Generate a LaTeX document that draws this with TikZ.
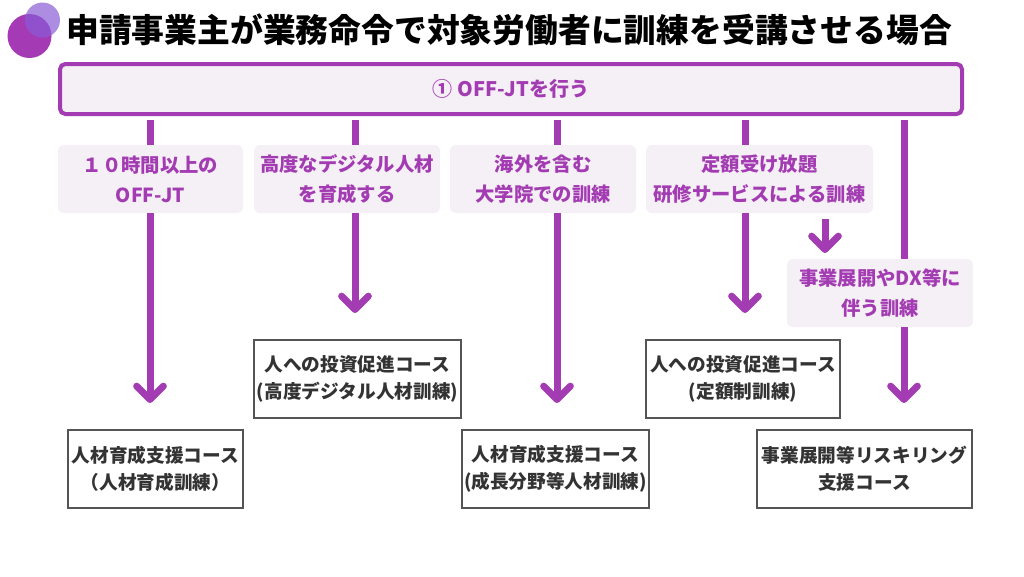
\documentclass[tikz,border=0pt]{standalone}
\usepackage{fontspec}
\setmainfont{Noto Sans CJK JP}
\usetikzlibrary{arrows.meta}
\definecolor{pur}{HTML}{A33BB2}
\definecolor{lav}{HTML}{F5EFF6}
\definecolor{circA}{HTML}{A53AB5}
\definecolor{circB}{HTML}{8A5CD6}
\definecolor{txtgray}{HTML}{333333}
\definecolor{boxgray}{HTML}{555555}
\tikzset{
  sz/.style 2 args={minimum width=#1*0.75pt, minimum height=#2*0.75pt},
  lbl/.style={fill=lav, rounded corners=4.5pt, text=pur, align=center, inner sep=0pt,
    font=\fontsize{14.5}{22.5}\selectfont\bfseries},
  outbox/.style={draw=boxgray, line width=0.9pt, fill=white, text=txtgray, align=center, inner sep=0pt,
    font=\fontsize{14}{20}\selectfont\bfseries},
  conn/.style={draw=pur, line width=5.25pt},
  arr/.style={conn, -{Straight Barb[round, length=10pt, width=20pt]}},
}
\begin{document}
\begin{tikzpicture}[x=0.75pt,y=-0.75pt]
\useasboundingbox (0,0) rectangle (1024,576);
% decorative circles
\fill[circA] (29.5,36) circle[radius=22*0.75pt];
\fill[circB, opacity=0.7] (42.5,20) circle[radius=17.5*0.75pt];
% title
\node[anchor=west, inner sep=0pt, font=\fontsize{24.6}{28}\selectfont\bfseries] (title) at (66,30)
  {申請事業主が業務命令で対象労働者に訓練を受講させる場合};
% top bar
\node[draw=pur, line width=3pt, fill=lav, rounded corners=4pt, sz={902}{50}, text=pur,
  font=\fontsize{15}{18}\selectfont\bfseries] (bar) at (511,89) {① OFF-JTを行う};
% label boxes
\node[lbl, sz={185}{68}] (L1) at (150.5,179) {１０時間以上の\\OFF-JT};
\node[lbl, sz={186}{68}] (L2) at (347,179) {高度なデジタル人材\\を育成する};
\node[lbl, sz={186}{68}] (L3) at (543,179) {海外を含む\\大学院での訓練};
\node[lbl, sz={227}{68}] (L4) at (759.5,179) {定額受け放題\\研修サービスによる訓練};
\node[lbl, sz={186}{68}] (L5) at (880,293) {事業展開やDX等に\\伴う訓練};
% output boxes
\node[outbox, sz={175}{78}] (A) at (155.5,469) {人材育成支援コース\\（人材育成訓練）};
\node[outbox, sz={207}{78}] (B) at (357.5,379) {人への投資促進コース\\(高度デジタル人材訓練)};
\node[outbox, sz={187}{78}] (C) at (555.5,469) {人材育成支援コース\\(成長分野等人材訓練)};
\node[outbox, sz={194}{78}] (D) at (743,379) {人への投資促進コース\\(定額制訓練)};
\node[outbox, sz={215}{78}] (E) at (864.5,469) {事業展開等リスキリング\\支援コース};
% coordinates
\coordinate (s1) at (150,120); \coordinate (t1) at (150,403);
\coordinate (s2) at (355,120); \coordinate (t2) at (355,313);
\coordinate (s3) at (557,120); \coordinate (t3) at (557,403);
\coordinate (s4) at (745,120); \coordinate (t4) at (745,313);
\coordinate (s5) at (904,120); \coordinate (t5) at (904,403);
\coordinate (ss) at (825,219); \coordinate (ts) at (825,253);
% connectors
\draw[conn] (s1) -- (s1 |- L1.north);
\draw[arr] (s1 |- L1.south) -- (t1);
\draw[conn] (s2) -- (s2 |- L2.north);
\draw[arr] (s2 |- L2.south) -- (t2);
\draw[conn] (s3) -- (s3 |- L3.north);
\draw[arr] (s3 |- L3.south) -- (t3);
\draw[conn] (s4) -- (s4 |- L4.north);
\draw[arr] (s4 |- L4.south) -- (t4);
\draw[conn] (s5) -- (s5 |- L5.north);
\draw[arr] (s5 |- L5.south) -- (t5);
\draw[arr] (ss) -- (ts);
\end{tikzpicture}
\end{document}
